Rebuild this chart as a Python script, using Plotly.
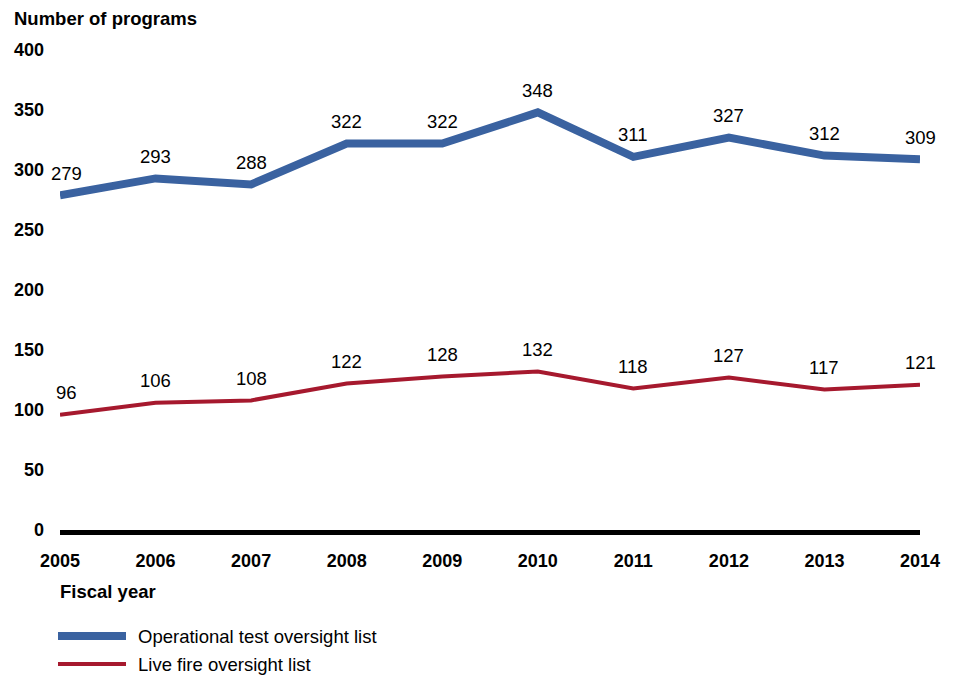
import plotly.graph_objects as go

years = [2005, 2006, 2007, 2008, 2009, 2010, 2011, 2012, 2013, 2014]
operational = [279, 293, 288, 322, 322, 348, 311, 327, 312, 309]
live_fire = [96, 106, 108, 122, 128, 132, 118, 127, 117, 121]
y_ticks = [0, 50, 100, 150, 200, 250, 300, 350, 400]

BLUE = "#3A62A0"
RED = "#A6192E"
FONT = "Liberation Sans, Arial, sans-serif"
REG = 18.5
BOLD = 18

fig = go.Figure()
fig.add_trace(go.Scatter(x=years, y=operational, mode="lines", name="Operational test oversight list",
                         line=dict(color=BLUE, width=8), showlegend=False, cliponaxis=False))
fig.add_trace(go.Scatter(x=years, y=live_fire, mode="lines", name="Live fire oversight list",
                         line=dict(color=RED, width=4), showlegend=False, cliponaxis=False))

annotations = []
for series in (operational, live_fire):
    for i, (x, y) in enumerate(zip(years, series)):
        annotations.append(dict(x=x, y=y, text=str(y), showarrow=False, yshift=22,
                                xshift=6 if i == 0 else 0,
                                font=dict(size=REG, color="black", family=FONT)))

# plot area: x 60..920, y 50..530 in window pixels (page offset of 8 px compensated)
def px(x):
    return (x - 60) / 860

def py(y):
    return (530 - y) / 480

annotations.append(dict(xref="paper", yref="paper", x=px(12), y=py(18), xanchor="left", yanchor="middle",
                        text="<b>Number of programs</b>", showarrow=False,
                        font=dict(size=18.5, color="black", family=FONT)))
annotations.append(dict(xref="paper", yref="paper", x=px(58), y=py(591), xanchor="left", yanchor="middle",
                        text="<b>Fiscal year</b>", showarrow=False,
                        font=dict(size=18.5, color="black", family=FONT)))

legend_items = [("Operational test oversight list", BLUE, 8, 636), ("Live fire oversight list", RED, 4, 664)]
shapes = []
for label, color, w, yy in legend_items:
    shapes.append(dict(type="line", xref="paper", yref="paper", x0=px(58), x1=px(126),
                       y0=py(yy), y1=py(yy), line=dict(color=color, width=w)))
    annotations.append(dict(xref="paper", yref="paper", x=px(136), y=py(yy), xanchor="left",
                            yanchor="middle", text=label, showarrow=False,
                            font=dict(size=REG, color="black", family=FONT)))

fig.update_layout(
    width=949, height=669,
    margin=dict(l=52, r=37, t=42, b=147, autoexpand=False),
    paper_bgcolor="white", plot_bgcolor="white",
    font=dict(family=FONT, size=REG, color="black"),
    annotations=annotations, shapes=shapes,
    xaxis=dict(range=[2005, 2014], tickvals=years, ticktext=[f"<b>{y}</b>" for y in years],
               showgrid=False, zeroline=False, showline=True, linecolor="black", linewidth=5,
               ticks="", ticklabelstandoff=10, automargin=False,
               tickfont=dict(size=BOLD, family=FONT, color="black")),
    yaxis=dict(range=[0, 400], tickvals=y_ticks, ticktext=[f"<b>{v}</b>" for v in y_ticks],
               showgrid=False, zeroline=False, showline=False, ticks="",
               ticklabelstandoff=15, automargin=False,
               tickfont=dict(size=BOLD, family=FONT, color="black")),
)

fig.write_html("out.html")
